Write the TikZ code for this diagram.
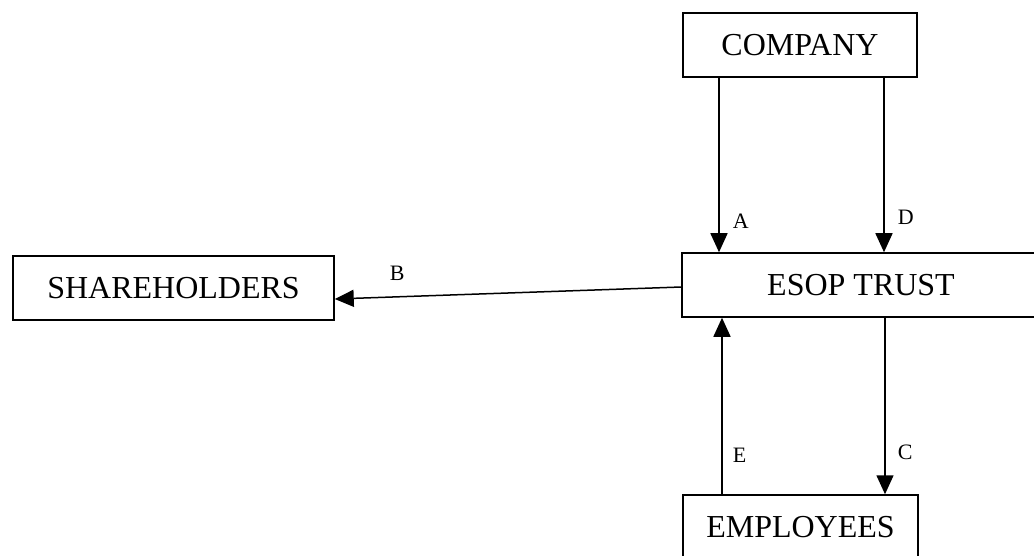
\documentclass[tikz,border=0pt]{standalone}
\usepackage{fontspec}
\setmainfont{Liberation Serif}
\usetikzlibrary{arrows.meta}

\begin{document}
\begin{tikzpicture}[x=1pt,y=-1pt,
    boite/.style={draw, line width=1.5pt, inner sep=0pt, minimum height=64pt, font=\fontsize{32}{38}\selectfont},
    fleche/.style={line width=1.5pt, -{Triangle[length=19pt,width=17pt]}},
    lettre/.style={inner sep=0pt, font=\fontsize{22}{26}\selectfont}]
    % cadre
    \useasboundingbox (0,0) rectangle (1034,556);
    \clip (0,0) rectangle (1034,556);
    % boites
    \node[boite, minimum width=234pt] (company) at (800,45) {COMPANY};
    \node[boite, minimum width=358pt] (esop) at (861,285) {ESOP TRUST};
    \node[boite, minimum width=321pt] (share) at (173.5,288) {SHAREHOLDERS};
    \node[boite, minimum width=235pt] (employ) at (800.5,527) {EMPLOYEES};
    % fleches
    \draw[fleche] (719,0 |- company.south) -- (719,0 |- esop.north) node[lettre, pos=0.82, right=13pt] {A};
    \draw[fleche] (884,0 |- company.south) -- (884,0 |- esop.north) node[lettre, pos=0.80, right=13pt] {D};
    \draw[fleche] (esop.west |- 0,287) -- (share.east |- 0,299) node[lettre, pos=0.82, above=16pt] {B};
    \draw[fleche] (722,0 |- employ.north) -- (722,0 |- esop.south) node[lettre, pos=0.22, right=10pt] {E};
    \draw[fleche] (885,0 |- esop.south) -- (885,0 |- employ.north) node[lettre, pos=0.76, right=12pt] {C};
\end{tikzpicture}
\end{document}
